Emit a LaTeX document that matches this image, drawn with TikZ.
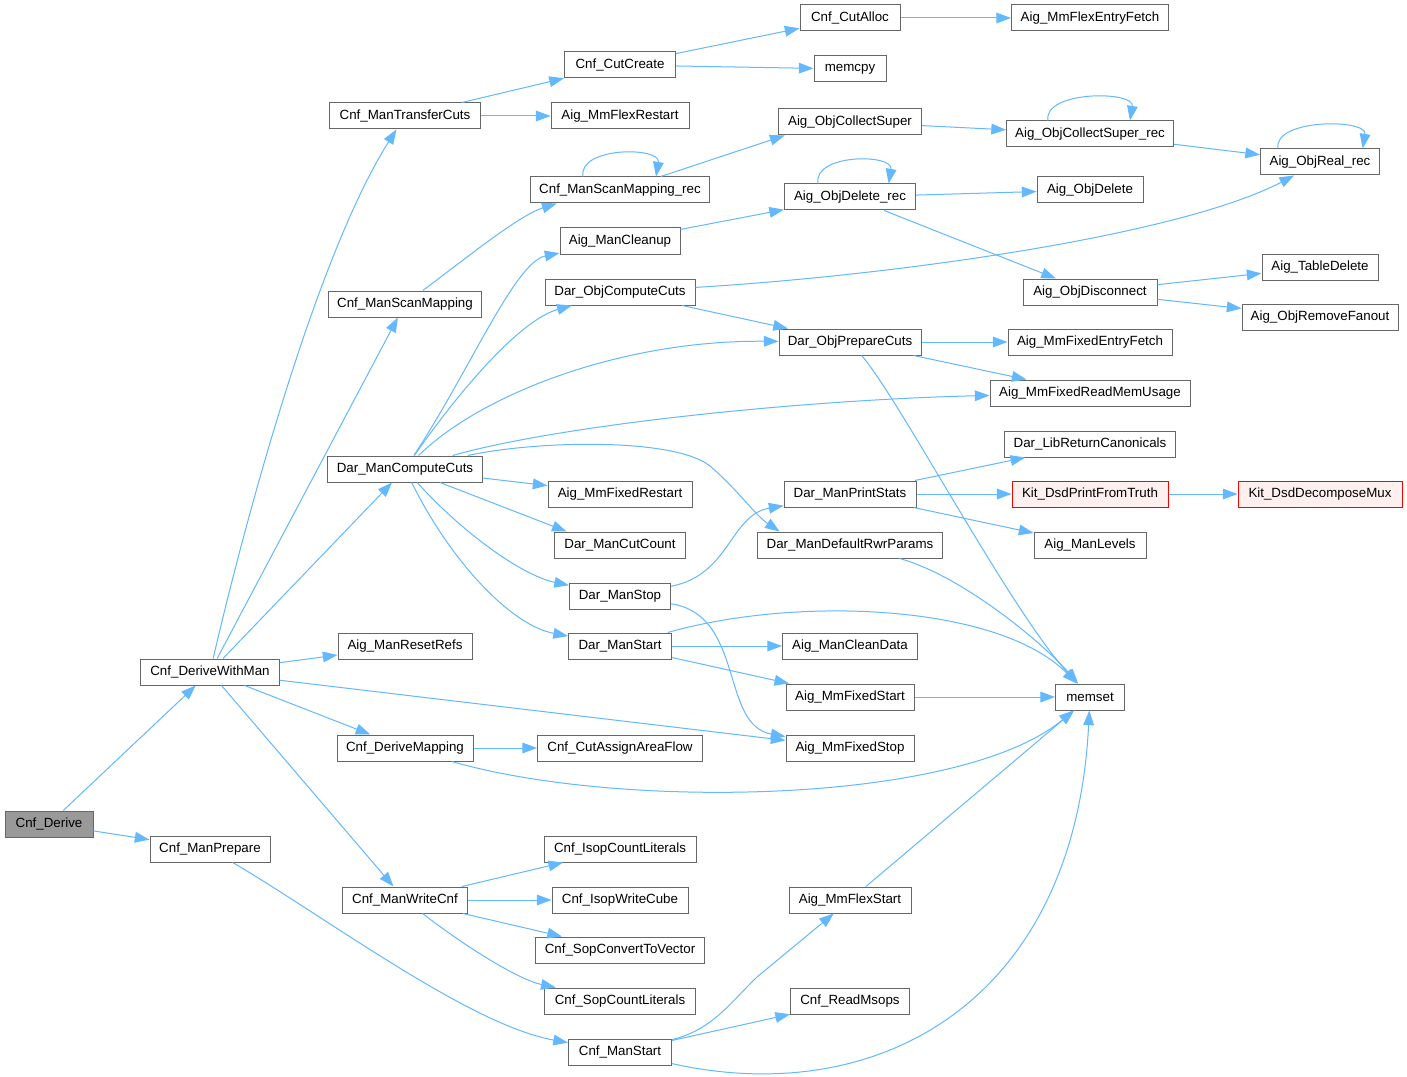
\documentclass[tikz,border=0pt]{standalone}
\usepackage{fontspec}
\setmainfont{Liberation Sans}
\usetikzlibrary{arrows.meta}
\definecolor{edgec}{HTML}{63B8FF}
\definecolor{bordc}{HTML}{666666}
\definecolor{rootc}{HTML}{999999}
\definecolor{redfill}{HTML}{FFF0F0}
\begin{document}
\begin{tikzpicture}[x=0.75pt,y=-0.75pt,
  box/.style={draw=bordc,line width=0.75pt,fill=white,minimum height=19.5pt,inner sep=0pt,
    font=\fontsize{10}{12}\selectfont,minimum width=#1*0.75pt},
  rootbox/.style={box=#1,fill=rootc},
  redbox/.style={box=#1,draw=red,fill=redfill},
  conn/.style={draw=edgec,line width=0.75pt,-{Triangle[length=11pt,width=8pt]}}]
\fill[white] (0,0) rectangle (1407,1077);
\useasboundingbox (0,0) rectangle (1407,1077);

% column 1
\node[rootbox=88] (n1) at (49,824) {Cnf\_Derive};
% column 2
\node[box=139] (n2) at (210,672) {Cnf\_DeriveWithMan};
\node[box=120] (n3) at (210,849) {Cnf\_ManPrepare};
% column 3
\node[box=151] (n4) at (405,116) {Cnf\_ManTransferCuts};
\node[box=153] (n5) at (405,304) {Cnf\_ManScanMapping};
\node[box=155] (n6) at (405,469) {Dar\_ManComputeCuts};
\node[box=134] (n7) at (405,646) {Aig\_ManResetRefs};
\node[box=136] (n8) at (405,748) {Cnf\_DeriveMapping};
\node[box=125] (n9) at (405,900) {Cnf\_ManWriteCnf};
% column 4
\node[box=111] (n10) at (620,65) {Cnf\_CutCreate};
\node[box=138] (n11) at (620,116) {Aig\_MmFlexRestart};
\node[box=179] (n12) at (620,190) {Cnf\_ManScanMapping\_rec};
\node[box=120] (n13) at (620,241) {Aig\_ManCleanup};
\node[box=150] (n14) at (620,292) {Dar\_ObjComputeCuts};
\node[box=144] (n15) at (620,494) {Aig\_MmFixedRestart};
\node[box=131] (n16) at (620,545) {Dar\_ManCutCount};
\node[box=101] (n17) at (620,596) {Dar\_ManStop};
\node[box=103] (n18) at (620,646) {Dar\_ManStart};
\node[box=165] (n19) at (620,748) {Cnf\_CutAssignAreaFlow};
\node[box=152] (n20) at (620,849) {Cnf\_IsopCountLiterals};
\node[box=136] (n21) at (620,900) {Cnf\_IsopWriteCube};
\node[box=169] (n22) at (620,950) {Cnf\_SopConvertToVector};
\node[box=151] (n23) at (620,1001) {Cnf\_SopCountLiterals};
\node[box=103] (n24) at (620,1052) {Cnf\_ManStart};
% column 5
\node[box=100] (n25) at (850,18) {Cnf\_CutAlloc};
\node[box=72] (n26) at (850,69) {memcpy};
\node[box=143] (n27) at (850,122) {Aig\_ObjCollectSuper};
\node[box=131] (n28) at (850,197) {Aig\_ObjDelete\_rec};
\node[box=142] (n29) at (850,342) {Dar\_ObjPrepareCuts};
\node[box=132] (n30) at (850,494) {Dar\_ManPrintStats};
\node[box=185] (n31) at (850,545) {Dar\_ManDefaultRwrParams};
\node[box=135] (n32) at (850,646) {Aig\_ManCleanData};
\node[box=128] (n33) at (850,697) {Aig\_MmFixedStart};
\node[box=128] (n34) at (850,748) {Aig\_MmFixedStop};
\node[box=122] (n35) at (850,900) {Aig\_MmFlexStart};
\node[box=119] (n36) at (850,1001) {Cnf\_ReadMsops};
% column 6
\node[box=157] (n37) at (1090,18) {Aig\_MmFlexEntryFetch};
\node[box=167] (n38) at (1090,134) {Aig\_ObjCollectSuper\_rec};
\node[box=106] (n39) at (1090,190) {Aig\_ObjDelete};
\node[box=134] (n40) at (1090,292) {Aig\_ObjDisconnect};
\node[box=164] (n41) at (1090,342) {Aig\_MmFixedEntryFetch};
\node[box=200] (n42) at (1090,393) {Aig\_MmFixedReadMemUsage};
\node[box=171] (n43) at (1090,444) {Dar\_LibReturnCanonicals};
\node[redbox=156] (n44) at (1090,494) {Kit\_DsdPrintFromTruth};
\node[box=112] (n45) at (1090,545) {Aig\_ManLevels};
\node[box=69] (n46) at (1090,697) {memset};
% column 7
\node[box=119] (n47) at (1320,162) {Aig\_ObjReal\_rec};
\node[box=116] (n48) at (1320,267) {Aig\_TableDelete};
\node[box=156] (n49) at (1320,317) {Aig\_ObjRemoveFanout};
\node[redbox=164] (n50) at (1320,494) {Kit\_DsdDecomposeMux};

% edges
\draw[conn] (n1) -- (n2);
\draw[conn] (n1) -- (n3);
\draw[conn] (n2) .. controls (250,500) and (320,250) .. (n4);
\draw[conn] (n2) -- (n5);
\draw[conn] (n2) -- (n6);
\draw[conn] (n2) -- (n7);
\draw[conn] (n2) -- (n8);
\draw[conn] (n2) -- (n9);
\draw[conn] (n2) -- (n34);
\draw[conn] (n3) .. controls (330,920) and (470,1025) .. (n24);

\draw[conn] (n4) -- (n10);
\draw[conn] (n4) -- (n11);
\draw[conn] (n10) -- (n25);
\draw[conn] (n10) -- (n26);
\draw[conn] (n25) -- (n37);

\draw[conn] (n5) .. controls (470,255) and (520,215) .. ([xshift=20pt]n12.south west);
\draw[conn] ([xshift=-27.75pt]n12.north) .. controls +(-5,-30) and +(5,-30) .. ([xshift=27pt]n12.north);
\draw[conn] (n12) -- ([xshift=5pt]n27.south west);
\draw[conn] (n27) -- (n38);
\draw[conn] ([xshift=-31.5pt]n38.north) .. controls +(-5,-30) and +(5,-30) .. ([xshift=30pt]n38.north);
\draw[conn] (n38) -- (n47);
\draw[conn] ([xshift=-31.5pt]n47.north) .. controls +(-5,-30) and +(5,-30) .. ([xshift=32pt]n47.north);

\draw[conn] (n6) .. controls (470,370) and (515,262) .. (n13);
\draw[conn] (n6) .. controls (460,390) and (520,320) .. (n14);
\draw[conn] (n6) .. controls (480,395) and (620,340) .. (n29);
\draw[conn] (n6) .. controls (560,425) and (800,400) .. (n42);
\draw[conn] (n6) .. controls (540,440) and (675,438) .. (710,466)
  .. controls (738,490) and (755,515) .. ([xshift=17pt]n31.north west);
\draw[conn] (n6) -- (n15);
\draw[conn] (n6) -- ([xshift=9.5pt]n16.north west);
\draw[conn] (n6) .. controls (460,530) and (520,575) .. (n17);
\draw[conn] (n6) .. controls (450,560) and (510,625) .. (n18);

\draw[conn] (n13) -- (n28);
\draw[conn] ([xshift=-24pt]n28.north) .. controls +(-5,-30) and +(5,-30) .. ([xshift=29pt]n28.north);
\draw[conn] (n28) -- (n39);
\draw[conn] (n28) -- (n40);
\draw[conn] (n40) -- (n48);
\draw[conn] (n40) -- (n49);

\draw[conn] (n14) .. controls (900,275) and (1180,235) .. (n47);
\draw[conn] (n14) -- (n29);
\draw[conn] (n29) -- (n41);
\draw[conn] (n29) -- (n42);
\draw[conn] (n29) .. controls (900,400) and (1010,610) .. (n46);

\draw[conn] (n30) -- (n43);
\draw[conn] (n30) -- (n44);
\draw[conn] (n30) -- (n45);
\draw[conn] (n44) -- (n50);

\draw[conn] (n17) .. controls (730,575) and (730,515) .. (n30);
\draw[conn] (n17) .. controls (745,615) and (720,725) .. (n34);
\draw[conn] (n31) .. controls (960,575) and (1040,640) .. (n46);
\draw[conn] (n18) .. controls (800,595) and (1000,605) .. (n46);
\draw[conn] (n18) -- (n32);
\draw[conn] (n18) -- (n33);
\draw[conn] (n33) -- (n46);

\draw[conn] (n8) -- (n19);
\draw[conn] (n8) .. controls (620,810) and (960,805) .. (n46);

\draw[conn] (n9) -- (n20);
\draw[conn] (n9) -- (n21);
\draw[conn] (n9) -- (n22);
\draw[conn] (n9) .. controls (470,950) and (520,980) .. (n23);

\draw[conn] (n24) .. controls (712,1030) and (730,1003) .. (757,977) -- (n35);
\draw[conn] (n24) -- (n36);
\draw[conn] (n24) .. controls (880,1110) and (1075,1000) .. (n46);
\draw[conn] (n35) -- (n46);
\end{tikzpicture}
\end{document}
